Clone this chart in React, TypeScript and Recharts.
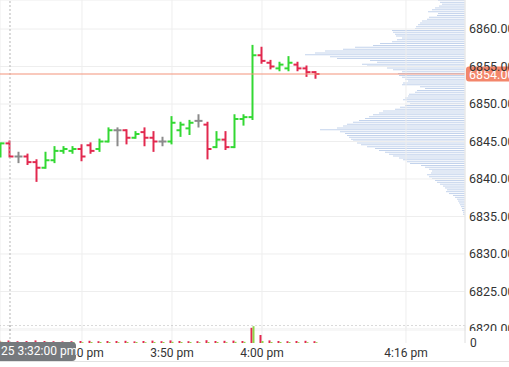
import { ComposedChart, BarChart, Bar, XAxis, YAxis, CartesianGrid, ReferenceLine } from 'recharts';

// minutes after 15:00, one bar per minute (3:31 pm .. 4:06 pm)
const minutes = [31, 32, 33, 34, 35, 36, 37, 38, 39, 40, 41, 42, 43, 44, 45, 46, 47, 48, 49, 50, 51, 52, 53, 54, 55, 56, 57, 58, 59, 60, 61, 62, 63, 64, 65, 66];
const opens = [6843.25, 6844.75, 6843, 6843, 6842.25, 6841.5, 6842.5, 6843.75, 6843.75, 6844, 6844.5, 6844, 6845, 6846.5, 6846.5, 6845.5, 6846.25, 6845.5, 6845, 6845, 6846.5, 6846.75, 6847.75, 6847.25, 6844.25, 6845.25, 6844.25, 6848, 6848.25, 6856.5, 6855.5, 6854.75, 6854.75, 6855.25, 6854.75, 6854.25];
const highs = [6844.75, 6845, 6843.5, 6843.25, 6842.5, 6843.5, 6844.25, 6844.25, 6844.25, 6844.5, 6844.75, 6845.25, 6846.75, 6846.75, 6846.5, 6846.25, 6846.75, 6846.25, 6845.5, 6848.25, 6847.5, 6847.75, 6848.5, 6847.5, 6846.25, 6846.25, 6848.5, 6848.5, 6857.75, 6857.5, 6855.75, 6855.5, 6856.25, 6855.5, 6855, 6854.25];
const lows = [6843, 6843, 6842.25, 6842, 6839.75, 6841.5, 6842.25, 6843.5, 6843.5, 6842.5, 6843.5, 6843.75, 6845, 6844.5, 6844.75, 6845.5, 6844.5, 6843.75, 6844.5, 6844.75, 6845.75, 6846, 6847, 6842.75, 6844.25, 6844, 6844.25, 6847.25, 6848, 6855.5, 6854.75, 6854.5, 6854.5, 6854.5, 6853.75, 6853.5];
const closes = [6844.75, 6843, 6843, 6842.25, 6841.5, 6842.5, 6843.75, 6844, 6844, 6843, 6843.75, 6845, 6846.5, 6846.5, 6845.5, 6846, 6845.5, 6845, 6845, 6847.5, 6847.25, 6847.5, 6847.75, 6844, 6845.25, 6844.25, 6848, 6848.25, 6856.5, 6855.75, 6855, 6855.25, 6855.5, 6854.75, 6854.25, 6854];
const sellVolume = [1100, 1200, 900, 1000, 1300, 1000, 900, 800, 900, 1000, 1100, 900, 1000, 1000, 1100, 800, 1000, 1200, 900, 1300, 1000, 900, 900, 1400, 1000, 1100, 1200, 1000, 7600, 4000, 1300, 1000, 900, 1000, 1100, 900];
const buyVolume = [600, 500, 500, 400, 500, 600, 500, 500, 500, 400, 500, 500, 500, 400, 500, 500, 400, 500, 500, 600, 500, 500, 400, 500, 500, 400, 600, 600, 8400, 1000, 500, 500, 500, 400, 400, 400];

// volume profile, one row per 0.25 tick going down from profileTop
const profileTop = 6863.75;
const profileVolume = [
  27, 25, 23, 26, 30, 33, 37, 27, 28, 36, 38, 43, 45, 47, 49, 50,
  73, 72, 70, 69, 63, 68, 73, 85, 92, 110, 122, 140, 150, 160, 135, 128,
  95, 88, 103, 98, 78, 72, 63, 67, 66, 63, 60, 57, 62, 63, 45, 40,
  48, 50, 56, 57, 60, 62, 58, 55,
  60, 65, 70, 82, 86, 92, 96, 100, 106, 112, 118, 122, 128, 145, 125, 120,
  118, 116, 114, 112, 108, 104, 98, 90, 86, 80, 76, 72, 66, 62, 58, 55,
  44, 40, 36, 33, 34, 38, 36, 33, 30, 28, 25, 22, 20, 18, 19, 16,
  12, 10, 8, 7, 6, 5, 4, 3, 3, 2, 2,
];

const timeTicks = [40, 50, 60, 76];
const priceTicks = [6820, 6825, 6830, 6835, 6840, 6845, 6850, 6855, 6860];
const volumeTicks = [0];
const lastPrice = 6854;
const cursorTime = 32;
const cursorLabel = '25 3:32:00 pm';

const candles = minutes.map((t, i) => ({
  t,
  open: opens[i],
  high: highs[i],
  low: lows[i],
  close: closes[i],
  sell: sellVolume[i],
  buy: buyVolume[i],
}));
const profile = profileVolume.map((vol, i) => ({ price: profileTop - i * 0.25, vol }));

const GREEN = '#33d833';
const RED = '#e2294f';
const GRAY = '#8b8b8b';
const GRID = '#eeeeee';
const TIME_DOMAIN: [number, number] = [30.889, 82.556];
const PRICE_DOMAIN: [number, number] = [6819.733, 6863.867];
const tickStyle = { fill: '#333', fontSize: 12 };

const formatTime = (t: number) => `${3 + Math.floor(t / 60)}:${String(t % 60).padStart(2, '0')} pm`;

const OhlcShape = (props: any) => {
  const { x, y, width, height, payload } = props;
  const cx = x + width / 2;
  const top = Math.min(y, y + height);
  const bottom = Math.max(y, y + height);
  const range = payload.high - payload.low;
  const yAt = (v: number) => (range === 0 ? top : top + ((payload.high - v) / range) * (bottom - top));
  const color = payload.close > payload.open ? GREEN : payload.close < payload.open ? RED : GRAY;
  return (
    <g stroke={color} strokeWidth={2}>
      <line x1={cx} x2={cx} y1={top - 1} y2={bottom + 1} />
      <line x1={cx - 4} x2={cx} y1={yAt(payload.open)} y2={yAt(payload.open)} />
      <line x1={cx} x2={cx + 4} y1={yAt(payload.close)} y2={yAt(payload.close)} />
    </g>
  );
};

const PriceTag = ({ viewBox }: any) => {
  if (!viewBox) return null;
  const x = viewBox.x + viewBox.width;
  return (
    <g>
      <rect x={x + 1} y={viewBox.y - 7.5} width={50} height={15} rx={3} fill="#f3866b" />
      <text x={x + 4} y={viewBox.y} dy="0.36em" fill="#fff" fontSize={12.5}>
        {lastPrice.toFixed(2)}
      </text>
    </g>
  );
};

export default function App() {
  return (
    <div style={{ position: 'relative', width: 509, height: 367, overflow: 'hidden', background: '#fff', fontFamily: 'Roboto' }}>
      <style>{'body{margin:0}'}</style>

      {/* volume profile, drawn behind the bars */}
      <div style={{ position: 'absolute', left: 0, top: 0 }}>
        <BarChart width={509} height={331} data={profile} layout="vertical" margin={{ top: 0, right: 44, bottom: 0, left: 0 }}>
          <XAxis type="number" domain={[0, 465]} reversed hide />
          <YAxis type="number" dataKey="price" domain={PRICE_DOMAIN} allowDataOverflow reversed hide />
          <Bar dataKey="vol" fill="#c3d3ec" barSize={1} isAnimationActive={false} />
        </BarChart>
      </div>

      <div style={{ position: 'absolute', left: 0, top: 0 }}>
        <ComposedChart width={509} height={331} data={candles} margin={{ top: 0, right: 0, bottom: 0, left: 0 }}>
          <CartesianGrid stroke={GRID} />
          <XAxis dataKey="t" type="number" domain={TIME_DOMAIN} ticks={timeTicks} allowDataOverflow hide />
          <YAxis
            orientation="right"
            type="number"
            domain={PRICE_DOMAIN}
            ticks={priceTicks}
            interval={0}
            allowDataOverflow
            width={44}
            tickLine={false}
            tickSize={2}
            tickMargin={2}
            axisLine={{ stroke: '#e6e6e6' }}
            tick={{ ...tickStyle, fontSize: 12.5, textAnchor: 'start' }}
            tickFormatter={(v: number) => v.toFixed(2)}
          />
          <ReferenceLine x={cursorTime} stroke="#b5b5b5" strokeDasharray="2 2" />
          <ReferenceLine y={lastPrice} stroke="#f3937b" label={<PriceTag />} />
          <Bar dataKey={(d: any) => [d.low, d.high]} barSize={8} shape={(p: any) => <OhlcShape {...p} />} isAnimationActive={false} />
        </ComposedChart>
      </div>

      {/* volume pane and time axis */}
      <div style={{ position: 'absolute', left: 0, top: 325 }}>
        <ComposedChart width={509} height={38} data={candles} margin={{ top: 0, right: 0, bottom: 0, left: 0 }} barGap={0}>
          <CartesianGrid stroke={GRID} horizontal={false} />
          <XAxis
            dataKey="t"
            type="number"
            domain={TIME_DOMAIN}
            ticks={timeTicks}
            interval={0}
            allowDataOverflow
            height={20}
            axisLine={false}
            tickLine={false}
            tickSize={4}
            tickMargin={1}
            tick={tickStyle}
            tickFormatter={formatTime}
          />
          <YAxis
            orientation="right"
            type="number"
            domain={[0, 9000]}
            ticks={volumeTicks}
            width={44}
            tickLine={false}
            tickSize={2}
            tickMargin={3}
            axisLine={{ stroke: '#e6e6e6' }}
            tick={{ ...tickStyle, textAnchor: 'start' }}
          />
          <ReferenceLine y={9000} stroke="#b5b5b5" strokeDasharray="2 2" />
          <ReferenceLine x={cursorTime} stroke="#b5b5b5" strokeDasharray="2 2" />
          <Bar dataKey="sell" fill={RED} barSize={2} isAnimationActive={false} />
          <Bar dataKey="buy" fill="#8fd44a" barSize={2} isAnimationActive={false} />
        </ComposedChart>
      </div>

      <div style={{ position: 'absolute', left: 0, top: 361, width: 509, height: 1, background: '#e2e2e2' }} />

      {/* crosshair time label */}
      <div
        style={{
          position: 'absolute',
          left: 0,
          top: 342,
          width: 76,
          height: 19,
          background: '#76797d',
          borderRadius: '0 4px 4px 0',
          color: '#fff',
          fontSize: 12,
          lineHeight: '19px',
          paddingLeft: 1,
          boxSizing: 'border-box',
          whiteSpace: 'nowrap',
        }}
      >
        {cursorLabel}
      </div>
    </div>
  );
}
